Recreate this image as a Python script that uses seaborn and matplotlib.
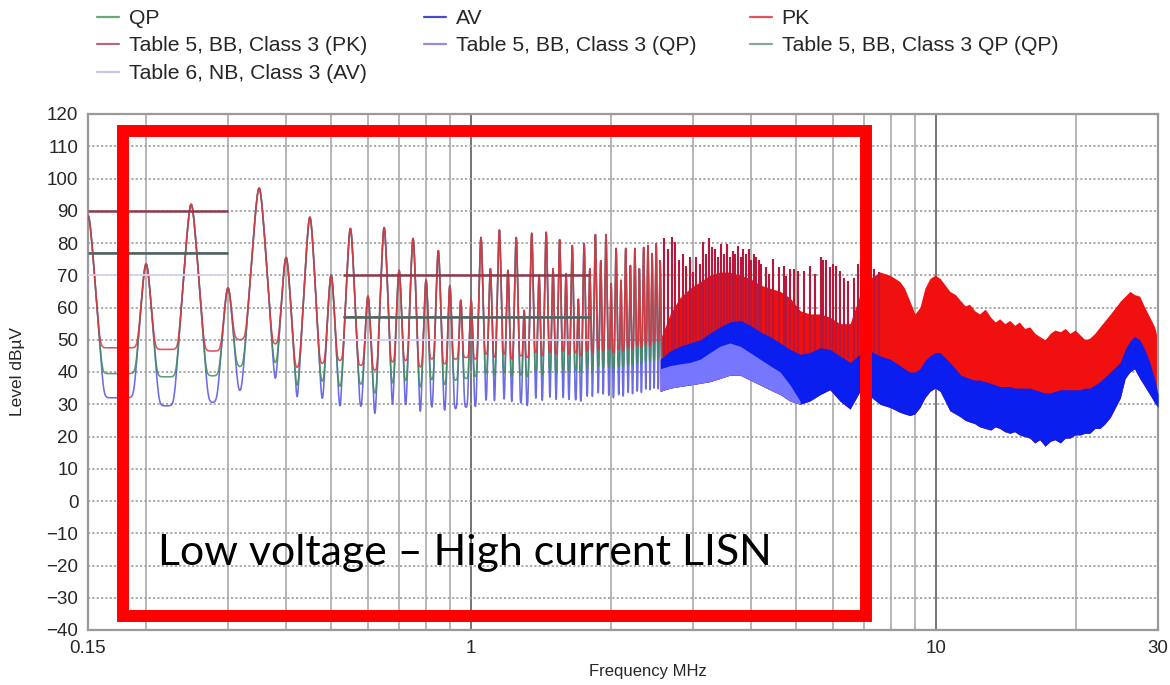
import numpy as np
import pandas as pd
import matplotlib
matplotlib.use("Agg")
import matplotlib.pyplot as plt
from matplotlib.lines import Line2D
from matplotlib.patches import Rectangle
from matplotlib.ticker import FixedLocator, FixedFormatter, NullFormatter, MultipleLocator
import seaborn as sns

# ---------------------------------------------------------------------------
# Conducted emission scan, 150 kHz - 30 MHz, low voltage / high current LISN
# ---------------------------------------------------------------------------

# Individual harmonics of the 50 kHz converter (MHz) and their levels (dBuV)
harm_freq = [0.15, 0.20, 0.25, 0.30, 0.35, 0.40, 0.45, 0.50, 0.55, 0.60,
             0.65, 0.70, 0.75, 0.80, 0.85, 0.90, 0.95, 1.00, 1.05, 1.10,
             1.15, 1.20, 1.25, 1.30, 1.35, 1.40, 1.45, 1.50, 1.55, 1.60,
             1.65, 1.70, 1.75, 1.80, 1.85, 1.90, 1.95, 2.00, 2.05, 2.10,
             2.15, 2.20, 2.25, 2.30, 2.35, 2.40, 2.45, 2.50, 2.55]
harm_peak = [88.5, 73.5, 92.0, 66.0, 97.0, 75.5, 88.0, 70.0, 84.5, 63.5,
             84.8, 71.5, 81.4, 68.5, 77.6, 66.8, 62.2, 62.2, 81.7, 72.0,
             84.0, 71.5, 81.7, 59.0, 83.0, 70.0, 83.3, 72.0, 81.0, 70.5,
             79.2, 62.5, 79.8, 72.0, 82.6, 74.5, 82.6, 67.4, 78.3, 68.4,
             78.3, 73.0, 78.3, 72.0, 78.6, 79.2, 76.7, 79.8, 74.5]

# Detector levels in the gaps between consecutive harmonics (dBuV)
pk_floor = [47.5, 47.0, 46.5, 50.0, 48.5, 41.0, 42.5, 43.5, 42.0, 40.5,
            43.0, 43.5, 41.5, 44.0, 42.5, 44.0, 44.5, 44.0, 45.5, 44.5,
            45.5, 44.0, 45.0, 44.5, 46.0, 45.0, 46.0, 45.5, 46.5, 45.5,
            46.0, 45.0, 46.5, 46.0, 47.0, 46.5, 47.0, 46.0, 47.0, 46.5,
            47.5, 47.0, 48.0, 47.5, 48.5, 48.0, 49.0, 49.5]
qp_floor = [39.5, 38.5, 38.8, 41.5, 42.0, 34.0, 36.5, 35.0, 36.0, 33.0,
            36.0, 37.0, 35.0, 37.5, 36.0, 37.5, 38.0, 38.5, 39.5, 38.5,
            39.5, 38.5, 39.0, 38.5, 40.0, 39.0, 40.0, 39.5, 40.5, 40.0,
            40.5, 40.0, 41.0, 40.5, 41.5, 41.0, 41.5, 41.0, 41.5, 41.5,
            42.0, 42.0, 42.5, 42.5, 43.0, 43.0, 43.5, 44.0]
av_floor = [32.0, 29.5, 30.5, 33.0, 34.0, 25.0, 29.0, 26.0, 28.0, 24.5,
            26.0, 27.5, 25.0, 28.0, 27.0, 28.5, 29.0, 28.5, 29.5, 28.5,
            29.5, 29.0, 30.0, 29.0, 30.5, 29.5, 30.5, 30.0, 31.0, 30.5,
            31.0, 30.5, 31.5, 31.0, 32.0, 31.5, 32.0, 31.5, 32.5, 32.0,
            33.0, 32.5, 33.5, 33.0, 33.5, 33.5, 34.0, 34.0]

# Dense part of the spectrum: envelopes of the PK and AV traces (dBuV)
band_freq = [2.55, 2.68, 2.81, 2.96, 3.11, 3.26, 3.43, 3.60, 3.79, 3.98,
             4.18, 4.39, 4.62, 4.85, 5.10, 5.35, 5.63, 5.91, 6.21, 6.53,
             6.86, 7.21, 7.57, 7.96, 8.36, 8.55, 8.78, 9.00, 9.23, 9.46,
             9.70, 9.95, 10.2, 10.45, 10.7, 11.0, 11.3, 11.55, 11.8, 12.1,
             12.4, 12.75, 13.1, 13.4, 13.7, 14.05, 14.4, 14.75, 15.1, 15.5,
             15.9, 16.3, 16.7, 17.15, 17.6, 18.0, 18.5, 18.95, 19.4, 19.9,
             20.4, 20.9, 21.4, 21.95, 22.5, 23.1, 23.7, 24.3, 24.9, 25.5,
             26.1, 26.7, 27.4, 28.1, 28.8, 29.5, 30.0]
pk_band_top = [50.0, 58.0, 63.0, 66.0, 68.0, 70.0, 71.0, 71.0, 70.0, 69.0,
               67.0, 66.0, 65.0, 63.0, 59.0, 58.0, 58.0, 57.0, 55.0, 55.0,
               64.0, 69.0, 71.0, 70.0, 68.0, 66.0, 62.0, 58.0, 60.0, 66.0,
               69.0, 70.0, 69.0, 67.0, 65.0, 64.0, 62.0, 60.5, 61.0, 59.0,
               58.0, 59.5, 57.0, 55.5, 56.5, 55.0, 56.0, 54.5, 55.5, 53.5,
               54.0, 52.0, 51.0, 50.0, 52.0, 53.0, 52.5, 53.5, 52.0, 53.0,
               51.5, 50.0, 50.5, 52.0, 54.0, 56.0, 58.0, 60.0, 62.0, 63.5,
               65.0, 64.0, 63.5, 60.0, 57.0, 54.0, 50.0]
av_band_top = [44.0, 46.5, 48.0, 49.0, 50.0, 52.0, 54.0, 55.5, 56.0, 54.5,
               52.5, 51.0, 49.0, 47.0, 45.5, 46.0, 47.5, 47.0, 45.0, 43.0,
               45.5, 46.5, 45.0, 44.0, 42.0, 41.0, 40.0, 40.0, 41.0, 43.5,
               45.0, 46.0, 46.0, 44.5, 43.0, 41.0, 39.0, 38.5, 38.0, 37.5,
               37.5, 37.0, 36.5, 36.0, 35.5, 35.5, 35.5, 35.0, 35.0, 35.0,
               35.0, 34.5, 34.0, 33.5, 33.5, 34.0, 34.5, 34.5, 34.5, 34.5,
               34.5, 35.0, 35.0, 36.0, 37.0, 38.5, 40.0, 41.5, 43.0, 47.0,
               49.5, 51.0, 50.0, 47.0, 43.0, 38.0, 33.0]
av_band_bottom = [34.0, 35.0, 35.5, 36.0, 36.5, 37.0, 38.0, 39.0, 39.0, 37.5,
                  36.0, 34.5, 33.0, 31.0, 30.0, 31.0, 33.0, 34.5, 31.0, 28.5,
                  34.0, 32.5, 30.0, 29.0, 27.5, 27.0, 26.5, 27.0, 29.0, 32.0,
                  34.0, 35.0, 34.0, 31.0, 28.0, 27.0, 26.0, 25.0, 24.5, 24.0,
                  23.0, 22.5, 22.0, 23.0, 22.5, 21.5, 21.0, 21.5, 20.5, 20.0,
                  19.5, 18.0, 19.0, 17.0, 18.5, 19.0, 18.0, 19.5, 19.5, 20.5,
                  20.5, 21.0, 21.0, 22.5, 22.5, 24.0, 26.0, 29.0, 32.0, 38.0,
                  40.0, 41.0, 38.0, 35.5, 33.0, 30.5, 29.0]
# Sparse lower part of the AV trace (2.55 - 5.1 MHz)
av_sparse_top = [41.0, 42.0, 42.5, 43.0, 44.0, 46.0, 48.0, 49.0, 48.0, 46.0,
                 44.0, 42.0, 40.0, 36.0, 31.0]

# Peak detector spikes standing out of the dense band
spike_freq = [2.60, 2.65, 2.70, 2.75, 2.80, 2.85, 2.90, 2.95, 3.00, 3.05,
              3.10, 3.15, 3.20, 3.25, 3.30, 3.35, 3.40, 3.45, 3.50, 3.55,
              3.60, 3.65, 3.70, 3.75, 3.80, 3.85, 3.90, 3.95, 4.00, 4.05,
              4.10, 4.15, 4.20, 4.30, 4.38, 4.45, 4.60, 4.70, 4.75, 4.85,
              4.95, 5.05, 5.20, 5.35, 5.50, 5.65, 5.70, 5.80, 5.90, 6.00,
              6.10, 6.20, 6.35, 6.45, 6.65, 6.80, 6.90, 7.35, 7.55]
spike_peak = [81.7, 78.0, 81.8, 80.2, 74.6, 76.6, 73.0, 75.6, 70.9, 75.6,
              73.5, 80.2, 76.6, 81.4, 78.7, 78.2, 75.6, 79.7, 76.6, 79.7,
              75.6, 77.6, 76.6, 79.2, 75.6, 78.2, 76.6, 78.2, 74.6, 76.6,
              75.6, 74.6, 73.5, 72.5, 70.5, 75.1, 72.5, 73.0, 69.9, 72.0,
              72.0, 71.4, 71.4, 73.0, 70.4, 75.6, 74.6, 74.6, 72.5, 73.5,
              73.0, 71.4, 69.3, 68.3, 69.3, 73.5, 74.6, 72.0, 70.9]

# CISPR 25 class 3 limits: LW and MW bands
limit_lo = [0.15, 0.53]
limit_hi = [0.30, 1.80]
limit_pk = [90, 70]
limit_qp = [77, 57]
limit_av = [70, 50]

# Axis ticks
x_tick_values = [0.15, 1, 10, 30]
x_tick_labels = ["0.15", "1", "10", "30"]
x_grid_minor = [0.2, 0.3, 0.4, 0.5, 0.6, 0.7, 0.8, 0.9,
                2, 3, 4, 5, 6, 7, 8, 9, 20]
y_ticks = list(range(-40, 121, 10))

# Colours
C_PK, C_QP, C_AV = "#e2303f", "#3f8f58", "#5252e0"
C_LIM_PK, C_LIM_QP5, C_LIM_QPQP, C_LIM_AV = "#8c3a4a", "#9a8ad8", "#4c6356", "#d4d4f4"
TEXT = "#262626"

# Receiver response around a harmonic: the steeper of a per-decade and a
# per-kHz roll-off, each with a rounded top
SLOPE_DB_PER_DECADE, ROUND_DECADE = 2000.0, 0.006
SLOPE_DB_PER_KHZ, ROUND_KHZ = 2.6, 5.0

# ---------------------------------------------------------------------------
sns.set_theme(style="white")
plt.rcParams["font.family"] = ["Liberation Sans", "DejaVu Sans"]

fig = plt.figure(figsize=(11.7, 6.85), dpi=100)
ax = fig.add_axes([88 / 1170, 1 - 630 / 685, (1158 - 88) / 1170, (630 - 114) / 685])

# Detector traces over the harmonic region: receiver response around each
# harmonic, power-summed with the detector's level between harmonics
grid = np.arange(0.15, 2.575, 0.0002)
hf = np.asarray(harm_freq)
hp = np.asarray(harm_peak)
d_khz = (grid[:, None] - hf[None, :]) * 1000.0
d_dec = np.log10(grid[:, None] / hf[None, :])
roll_lin = SLOPE_DB_PER_KHZ * (np.sqrt(d_khz ** 2 + ROUND_KHZ ** 2) - ROUND_KHZ)
roll_log = SLOPE_DB_PER_DECADE * (np.sqrt(d_dec ** 2 + ROUND_DECADE ** 2) - ROUND_DECADE)
lobe_db = hp[None, :] - np.maximum(roll_lin, roll_log)
lobe_pow = (10.0 ** (lobe_db / 10.0)).sum(axis=1)
gap = np.clip(np.searchsorted(hf, grid, side="right") - 1, 0, len(pk_floor) - 1)

traces = []
for name, floor in (("AV", av_floor), ("QP", qp_floor), ("PK", pk_floor)):
    base_pow = 10.0 ** (np.asarray(floor)[gap] / 10.0)
    level = 10.0 * np.log10(base_pow + lobe_pow)
    traces.append(pd.DataFrame({"freq": grid, "level": level, "detector": name}))
df = pd.concat(traces, ignore_index=True)

sns.lineplot(data=df, x="freq", y="level", hue="detector",
             hue_order=["AV", "QP", "PK"],
             palette={"AV": C_AV, "QP": C_QP, "PK": C_PK},
             estimator=None, sort=False, lw=1.15, alpha=0.85,
             legend=False, ax=ax, zorder=3)

# Dense band: PK body, spikes and AV band
ax.fill_between(band_freq, av_band_bottom, pk_band_top, color="#f01010",
                lw=0, zorder=2)
ax.vlines(spike_freq, 44, spike_peak, color="#b8163a", lw=1.5, zorder=2.5)
ax.fill_between(band_freq, av_band_bottom, av_band_top, color="#0a1ef0",
                lw=0, zorder=3)
n_sparse = len(av_sparse_top)
ax.fill_between(band_freq[:n_sparse], av_band_bottom[:n_sparse], av_sparse_top,
                color="#7676ff", lw=0, zorder=3.2)

# Limit lines
ax.hlines(limit_av, limit_lo, limit_hi, color=C_LIM_AV, lw=1.3, zorder=4)
ax.hlines(limit_qp, limit_lo, limit_hi, color=C_LIM_QP5, lw=1.4, zorder=4)
ax.hlines(limit_qp, limit_lo, limit_hi, color=C_LIM_QPQP, lw=1.8, zorder=4.1)
ax.hlines(limit_pk, limit_lo, limit_hi, color=C_LIM_PK, lw=1.8, zorder=4.1)

# Axes, ticks and grid
ax.set_xscale("log")
ax.set_xlim(0.15, 30)
ax.set_ylim(-40, 120)
ax.xaxis.set_major_locator(FixedLocator(x_tick_values))
ax.xaxis.set_major_formatter(FixedFormatter(x_tick_labels))
ax.xaxis.set_minor_locator(FixedLocator(x_grid_minor))
ax.xaxis.set_minor_formatter(NullFormatter())
ax.set_yticks(y_ticks)
ax.yaxis.set_minor_locator(MultipleLocator(2))

ax.grid(which="minor", axis="x", color="#b0b0b0", lw=1.3, ls="-", zorder=0)
ax.grid(which="major", axis="x", color="#6a6a6a", lw=1.3, ls="-", zorder=0)
ax.grid(which="major", axis="y", color="#a4a4a4", lw=1.3, ls=(0, (1.2, 1.2)), zorder=0)
ax.set_axisbelow(True)

for side in ("left", "right", "top", "bottom"):
    ax.spines[side].set_color("#999999")
    ax.spines[side].set_linewidth(1.6)

ax.tick_params(axis="both", which="major", labelsize=13.5, labelcolor=TEXT,
               color="#999999", length=4, width=1.2, pad=3)
ax.tick_params(axis="y", which="minor", color="#999999", length=2.5, width=1.0)
ax.tick_params(axis="x", which="minor", length=0)

ax.set_ylabel("Level dBµV", fontsize=12.5, color=TEXT)
ax.yaxis.set_label_coords(-0.059, 0.5)
ax.set_xlabel("Frequency MHz", fontsize=12, color=TEXT)
ax.xaxis.set_label_coords(0.523, -0.066)

# Highlighted measurement range
ax.add_patch(Rectangle((0.0327, 0.0271), 0.727 - 0.0327, 0.967 - 0.0271,
                       transform=ax.transAxes, fill=False, edgecolor="#ff0000",
                       lw=8.6, joinstyle="miter", clip_on=False, zorder=10))
ax.text(0.0654, 0.126, "Low voltage \u2013 High current LISN", transform=ax.transAxes,
        fontsize=30.9, family=["Lato", "DejaVu Sans"], color="black",
        ha="left", va="baseline", zorder=11)

# Legend in three columns above the plot
def handle(color):
    return Line2D([], [], color=color, lw=1.6)

columns = [
    ([handle("#6aa87a"), handle("#b06a78"), handle("#c4c4ee")],
     ["QP", "Table 5, BB, Class 3 (PK)", "Table 6, NB, Class 3 (AV)"], 97),
    ([handle("#4a4ad0"), handle("#9a8ad8")],
     ["AV", "Table 5, BB, Class 3 (QP)"], 424),
    ([handle("#e85060"), handle("#8aa898")],
     ["PK", "Table 5, BB, Class 3 QP (QP)"], 750),
]
for hs, labels, x0 in columns:
    fig.legend(hs, labels, loc="upper left", bbox_to_anchor=(x0 / 1170, 1 - 9 / 685),
               frameon=False, fontsize=15.2, handlelength=1.05, handletextpad=0.45,
               labelspacing=0.4, borderpad=0, borderaxespad=0,
               labelcolor=TEXT)

fig.savefig("out.png", dpi=100, facecolor="white")
